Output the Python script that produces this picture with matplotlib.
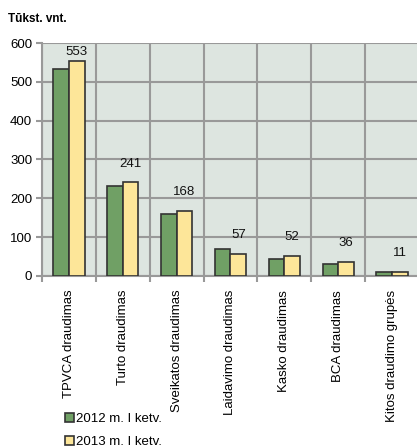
import matplotlib.pyplot as plt
import numpy as np

plt.rcParams['font.family'] = ['Liberation Sans', 'DejaVu Sans']

# data
categories = ['TPVCA draudimas', 'Turto draudimas', 'Sveikatos draudimas',
              'Laidavimo draudimas', 'Kasko draudimas', 'BCA draudimas',
              'Kitos draudimo grupės']
v2012 = [532, 233, 160, 70, 44, 32, 9]
v2013 = [553, 241, 168, 57, 52, 36, 11]
series_names = ['2012 m. I ketv.', '2013 m. I ketv.']

fig = plt.figure(figsize=(4.17, 4.48), dpi=100)
ax = fig.add_axes([0.1007, 0.384, 0.904, 0.520])
ax.set_facecolor('#dde5e0')

x = np.arange(len(categories))
w = 0.29
ax.bar(x - w / 2, v2012, w, color='#70a065', edgecolor='#333333', linewidth=1.2,
       label=series_names[0], zorder=3)
ax.bar(x + w / 2, v2013, w, color='#fde699', edgecolor='#333333', linewidth=1.2,
       label=series_names[1], zorder=3)

# value labels above the 2013 bars
for xi, v in zip(x, v2013):
    ax.text(xi + w / 2, min(v + 33, 562), str(v), ha='center', va='bottom',
            fontsize=9.5, color='#111111')

ax.set_xlim(-0.5, len(categories) - 0.5)
ax.set_ylim(0, 600)
ax.set_yticks(range(0, 601, 100))
ax.set_xticks(np.arange(len(categories) + 1) - 0.5)
ax.set_xticklabels([])
ax.set_xticks(x, minor=True)
ax.set_xticklabels(categories, minor=True, rotation=90, va='top', fontsize=9.5)
ax.tick_params(axis='x', which='minor', length=0, pad=10)
ax.tick_params(axis='x', which='major', length=4, color='#999999', width=1.5)
ax.tick_params(axis='y', length=4, color='#999999', width=1.5, labelsize=9.5, pad=3)

ax.grid(True, axis='y', color='#999999', linewidth=1.5, zorder=0)
ax.grid(True, axis='x', which='major', color='#999999', linewidth=1.5, zorder=0)
for s in ['top', 'right']:
    ax.spines[s].set_visible(False)
for s in ['left', 'bottom']:
    ax.spines[s].set_color('#999999')
    ax.spines[s].set_linewidth(1.5)

fig.text(0.02, 0.958, 'Tūkst. vnt.', fontsize=8.5, fontweight='bold', va='center')

fig.legend(loc='upper left', bbox_to_anchor=(0.155, 0.078), frameon=False,
           fontsize=9.5, handlelength=0.7, handleheight=0.7, handletextpad=0.15,
           labelspacing=0.8, borderaxespad=0, borderpad=0)

plt.savefig('out.png', dpi=100)
